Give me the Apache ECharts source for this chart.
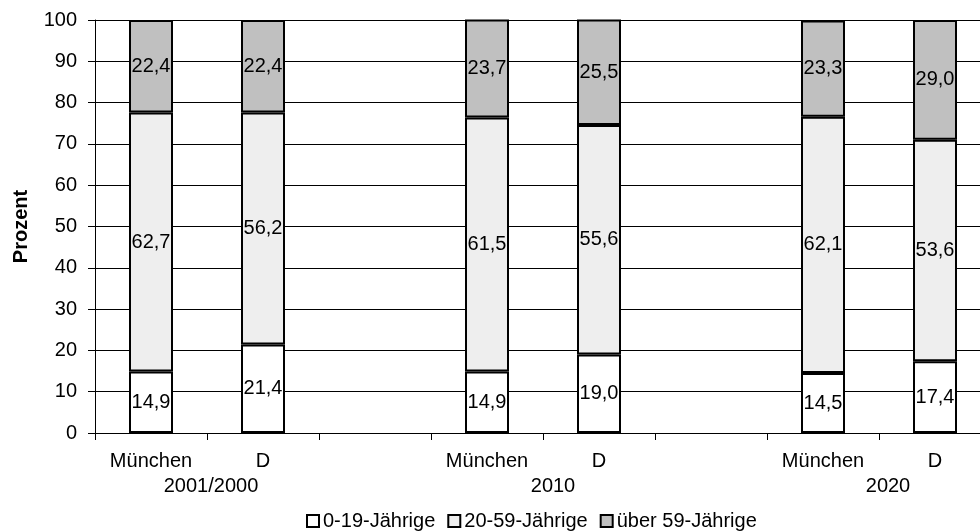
<!DOCTYPE html>
<html>
<head>
<meta charset="utf-8">
<script src="https://cdn.jsdelivr.net/npm/echarts@6/dist/echarts.min.js"></script>
<style>
html,body{margin:0;padding:0;background:#fff;}
#c{width:980px;height:531px;}
</style>
</head>
<body>
<div id="c"></div>
<script>
var categories = ['München', 'D', '', 'München', 'D', '', 'München', 'D'];
var groupLabels = ['', '2001/2000', '', '', '2010', '', '', '2020', ''];
var groupShift = [0, 8, 0, 0, 20, 0, 0, 18, 0];
var seriesNames = ['0-19-Jährige', '20-59-Jährige', 'über 59-Jährige'];
var young = [14.9, 21.4, null, 14.9, 19.0, null, 14.5, 17.4];
var middle = [62.7, 56.2, null, 61.5, 55.6, null, 62.1, 53.6];
var old = [22.4, 22.4, null, 23.7, 25.5, null, 23.3, 29.0];
var yTicks = { min: 0, max: 100, interval: 10 };

var FONT = 'Liberation Sans, Arial, sans-serif';
var colors = ['#ffffff', '#eeeeee', '#c0c0c0'];
var values = [young, middle, old];

var chart = echarts.init(document.getElementById('c'), null, { renderer: 'canvas' });

var series = values.map(function (vals, i) {
  return {
    name: seriesNames[i],
    type: 'bar',
    stack: 'total',
    barWidth: 44,
    data: vals,
    itemStyle: { color: colors[i], borderColor: '#000', borderWidth: 2 },
    label: {
      show: true,
      position: 'inside',
      color: '#000',
      fontFamily: FONT,
      fontSize: 20,
      formatter: function (p) {
        return p.value == null ? '' : Number(p.value).toFixed(1).replace('.', ',');
      }
    },
    emphasis: { disabled: true },
    animation: false
  };
});

chart.setOption({
  animation: false,
  textStyle: { fontFamily: FONT },
  grid: { left: 95, top: 20, width: 896, height: 413, containLabel: false, outerBoundsMode: 'none' },
  legend: {
    left: 301,
    top: 506,
    itemWidth: 12,
    itemHeight: 12,
    itemGap: 12,
    icon: 'rect',
    itemStyle: { borderColor: '#000', borderWidth: 2 },
    textStyle: { fontFamily: FONT, fontSize: 20, color: '#000', padding: [0, 0, 0, -1] },
    data: seriesNames
  },
  xAxis: [
    {
      type: 'category',
      data: categories,
      position: 'bottom',
      axisLine: { lineStyle: { color: '#000', width: 1 } },
      axisTick: { show: true, interval: 0, length: 7, lineStyle: { color: '#000' } },
      axisLabel: { interval: 0, margin: 18, color: '#000', fontFamily: FONT, fontSize: 20 },
      splitLine: { show: false }
    },
    {
      type: 'category',
      data: groupLabels.map(function (g, i) {
        return { value: g, textStyle: { padding: [0, 0, 0, groupShift[i]] } };
      }),
      boundaryGap: false,
      position: 'bottom',
      axisLine: { show: false },
      axisTick: { show: false },
      axisLabel: { interval: 0, margin: 43, color: '#000', fontFamily: FONT, fontSize: 20 },
      splitLine: { show: false }
    }
  ],
  yAxis: {
    type: 'value',
    min: yTicks.min,
    max: yTicks.max,
    interval: yTicks.interval,
    name: 'Prozent',
    nameLocation: 'middle',
    nameGap: 64,
    nameTextStyle: { fontFamily: FONT, fontSize: 20, fontWeight: 'bold', color: '#000' },
    axisLine: { show: true, lineStyle: { color: '#000', width: 1 } },
    axisTick: { show: true, length: 7, lineStyle: { color: '#000' } },
    axisLabel: { margin: 18, color: '#000', fontFamily: FONT, fontSize: 20 },
    splitLine: { show: true, lineStyle: { color: '#000', width: 1 } }
  },
  series: series
});
</script>
</body>
</html>
